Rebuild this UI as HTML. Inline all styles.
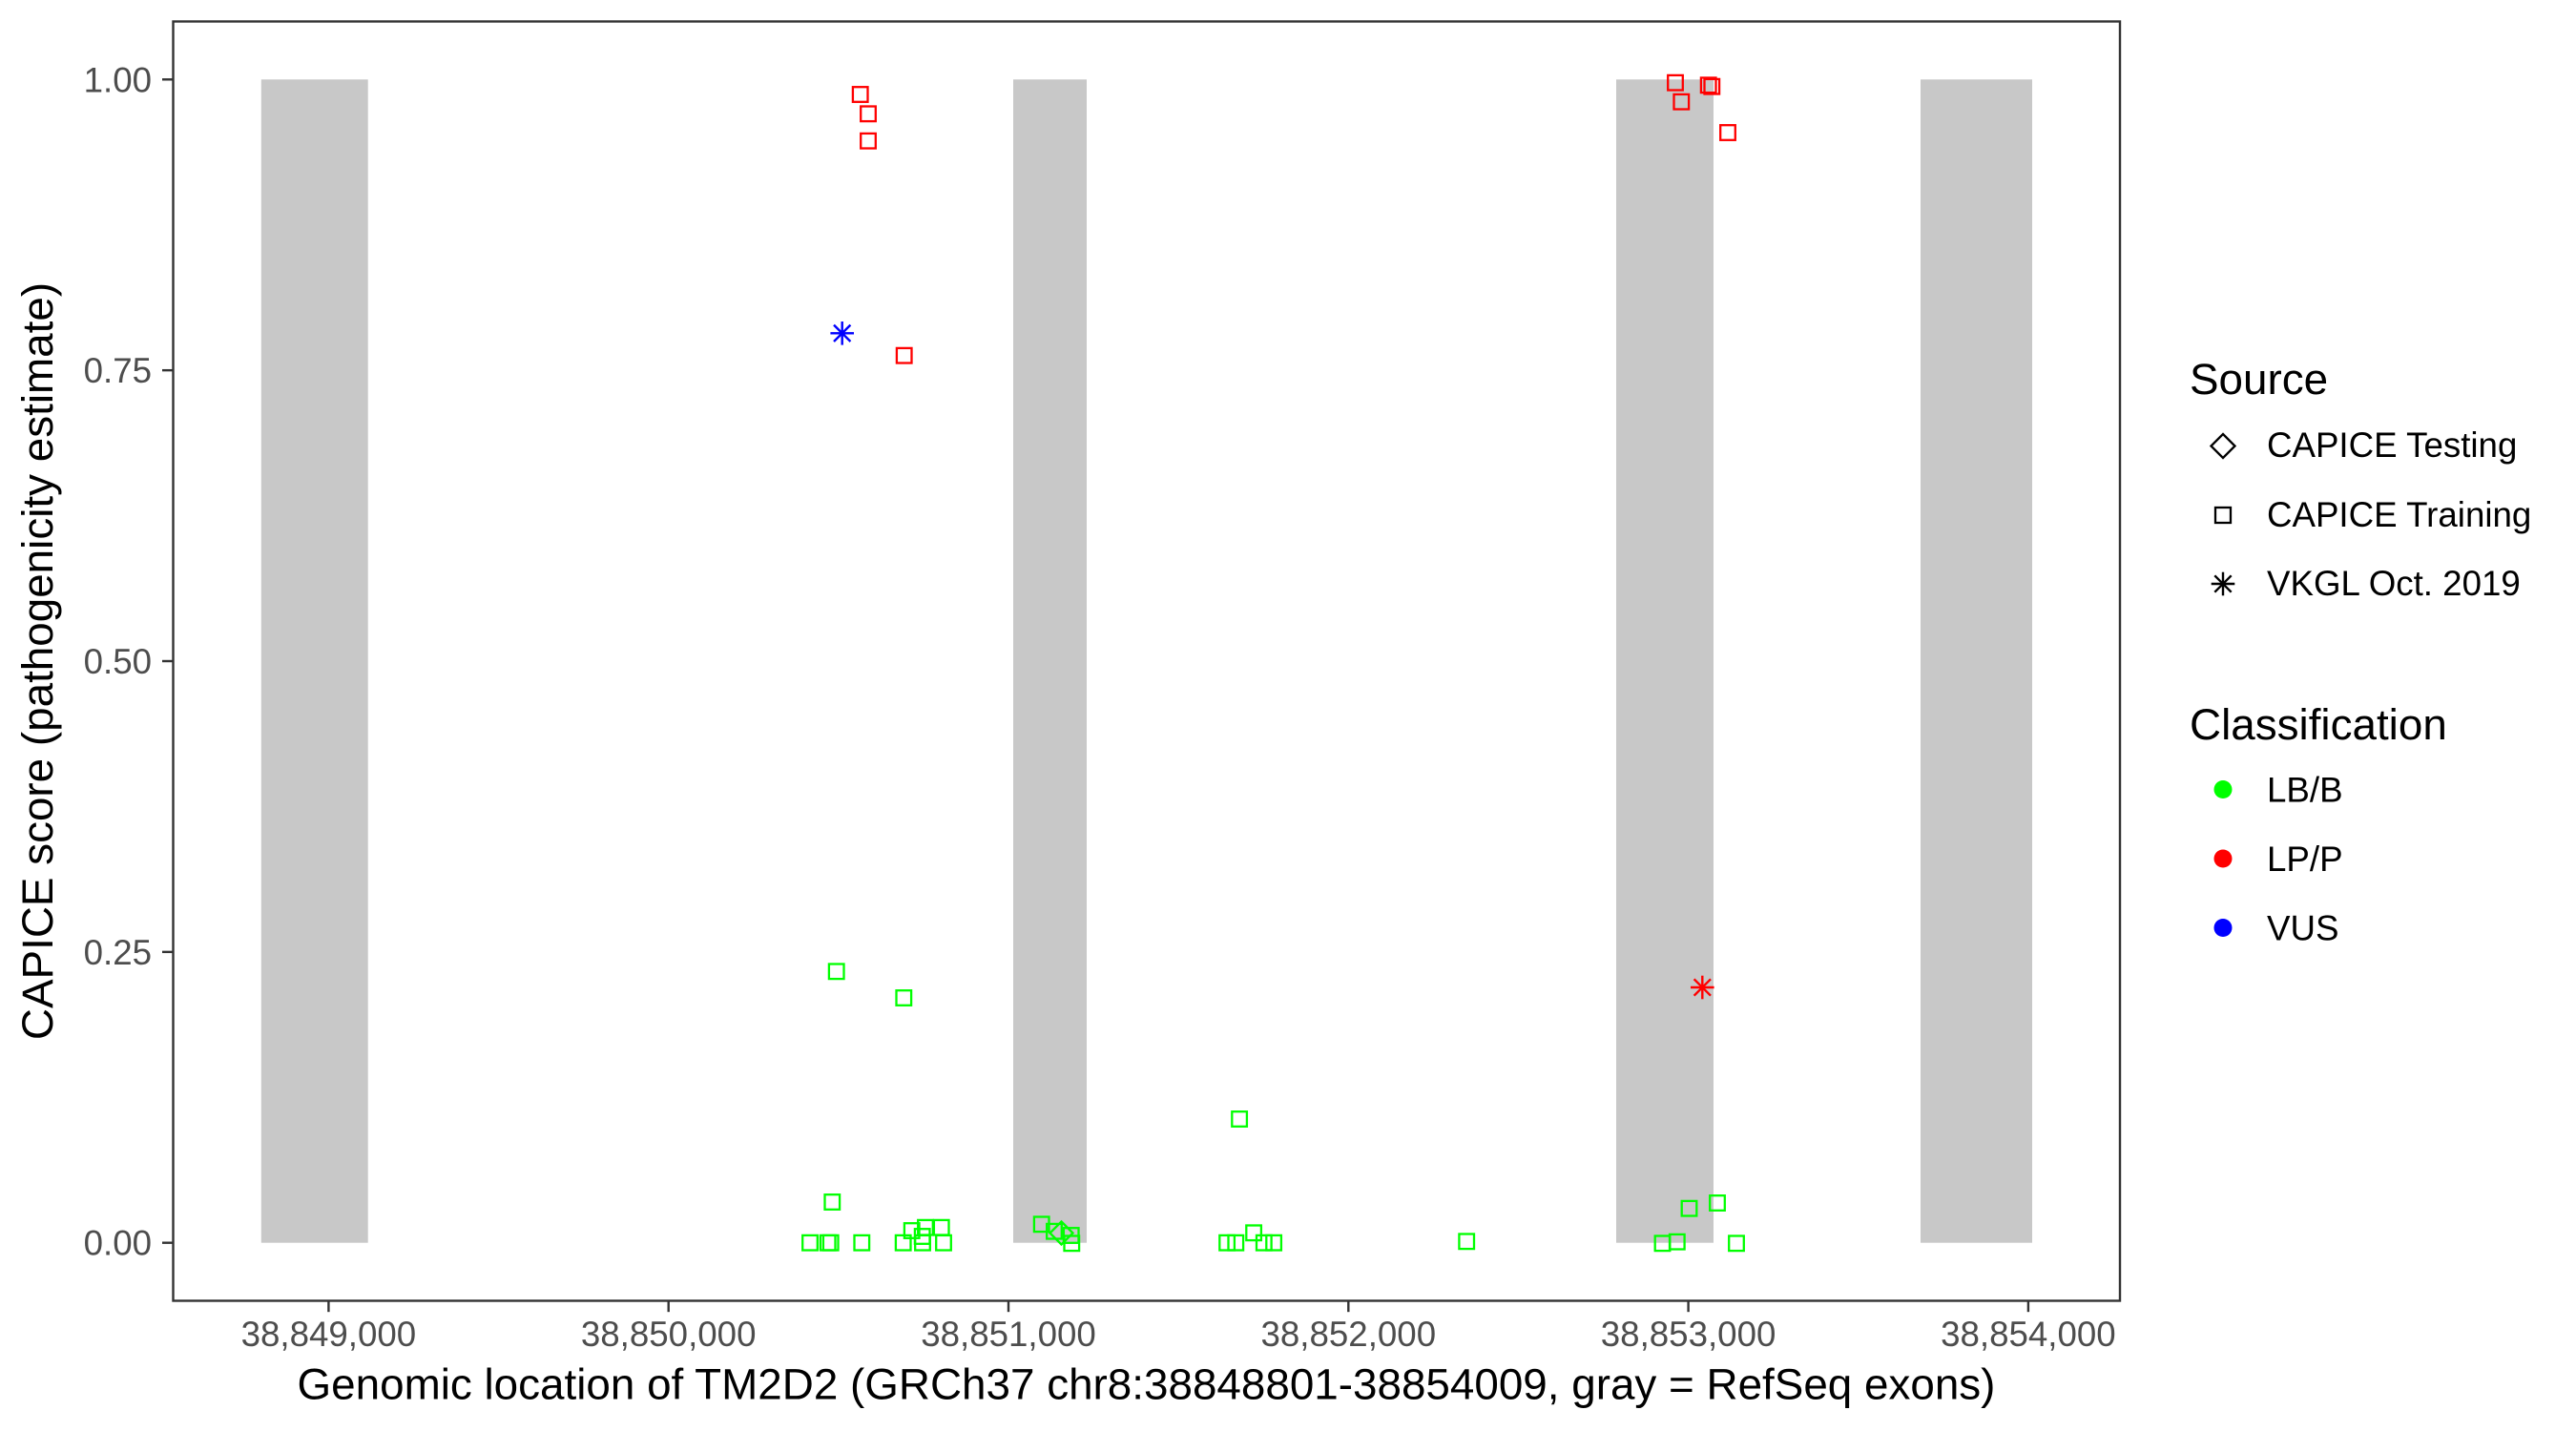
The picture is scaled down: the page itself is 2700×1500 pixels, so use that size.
<!DOCTYPE html>
<html>
<head>
<meta charset="utf-8">
<style>
  html, body { margin:0; padding:0; background:#fff; }
  svg { display:block; }
  text { font-family: "Liberation Sans", Arial, sans-serif; }
</style>
</head>
<body>
<svg width="2700" height="1500" viewBox="0 0 2700 1500" xmlns="http://www.w3.org/2000/svg">
  <rect x="0" y="0" width="2700" height="1500" fill="#ffffff"/>

  <!-- exon rectangles -->
  <g fill="#C8C8C8">
    <rect x="273.8" y="83.3" width="111.9" height="1219.4"/>
    <rect x="1062" y="83.3" width="77" height="1219.4"/>
    <rect x="1694" y="83.3" width="102" height="1219.4"/>
    <rect x="2013" y="83.3" width="117" height="1219.4"/>
  </g>

  <!-- green squares -->
  <g fill="none" stroke="#00FF00" stroke-width="2.3">
    <rect x="868.9" y="1010.5" width="15.6" height="15.6"/>
    <rect x="939.5" y="1038.2" width="15.6" height="15.6"/>
    <rect x="864.5" y="1252.2" width="15.6" height="15.6"/>
    <rect x="841.2" y="1294.9" width="15.6" height="15.6"/>
    <rect x="859.9" y="1294.9" width="15.6" height="15.6"/>
    <rect x="862.9" y="1294.9" width="15.6" height="15.6"/>
    <rect x="895.5" y="1294.9" width="15.6" height="15.6"/>
    <rect x="938.9" y="1294.9" width="15.6" height="15.6"/>
    <rect x="959.2" y="1294.9" width="15.6" height="15.6"/>
    <rect x="981.2" y="1294.9" width="15.6" height="15.6"/>
    <rect x="947.9" y="1282.2" width="15.6" height="15.6"/>
    <rect x="962.2" y="1278.9" width="15.6" height="15.6"/>
    <rect x="978.9" y="1278.9" width="15.6" height="15.6"/>
    <rect x="958.9" y="1288.2" width="15.6" height="15.6"/>
    <rect x="1083.9" y="1275.5" width="15.6" height="15.6"/>
    <rect x="1097.2" y="1282.9" width="15.6" height="15.6"/>
    <rect x="1114.9" y="1287.2" width="15.6" height="15.6"/>
    <rect x="1115.5" y="1295.5" width="15.6" height="15.6"/>
    <rect x="1291.3" y="1165.2" width="15.6" height="15.6"/>
    <rect x="1278.3" y="1294.9" width="15.6" height="15.6"/>
    <rect x="1287.5" y="1294.9" width="15.6" height="15.6"/>
    <rect x="1306.3" y="1284.5" width="15.6" height="15.6"/>
    <rect x="1317.0" y="1294.9" width="15.6" height="15.6"/>
    <rect x="1327.3" y="1294.9" width="15.6" height="15.6"/>
    <rect x="1529.4" y="1293.5" width="15.6" height="15.6"/>
    <rect x="1762.7" y="1258.9" width="15.6" height="15.6"/>
    <rect x="1792.2" y="1253.2" width="15.6" height="15.6"/>
    <rect x="1734.7" y="1295.5" width="15.6" height="15.6"/>
    <rect x="1750.0" y="1293.9" width="15.6" height="15.6"/>
    <rect x="1812.2" y="1295.5" width="15.6" height="15.6"/>
  </g>
  <!-- green diamond -->
  <polygon points="1112.5,1280.5 1124.5,1292.5 1112.5,1304.5 1100.5,1292.5" fill="none" stroke="#00FF00" stroke-width="2.3"/>

  <!-- red squares -->
  <g fill="none" stroke="#FF0000" stroke-width="2.3">
    <rect x="893.9" y="91.2" width="15.6" height="15.6"/>
    <rect x="902.2" y="111.5" width="15.6" height="15.6"/>
    <rect x="902.2" y="139.9" width="15.6" height="15.6"/>
    <rect x="939.9" y="364.9" width="15.6" height="15.6"/>
    <rect x="1748.2" y="78.9" width="15.6" height="15.6"/>
    <rect x="1754.5" y="98.9" width="15.6" height="15.6"/>
    <rect x="1782.9" y="81.5" width="15.6" height="15.6"/>
    <rect x="1786.5" y="82.9" width="15.6" height="15.6"/>
    <rect x="1803.2" y="131.2" width="15.6" height="15.6"/>
  </g>

  <!-- stars -->
  <g stroke="#0000FF" stroke-width="2.4" stroke-linecap="butt">
    <line x1="882.7" y1="337" x2="882.7" y2="361.6"/>
    <line x1="870.4" y1="349.3" x2="895" y2="349.3"/>
    <line x1="874" y1="340.6" x2="891.4" y2="358"/>
    <line x1="874" y1="358" x2="891.4" y2="340.6"/>
  </g>
  <g stroke="#FF0000" stroke-width="2.4" stroke-linecap="butt">
    <line x1="1784.3" y1="1022.7" x2="1784.3" y2="1047.3"/>
    <line x1="1772" y1="1035" x2="1796.6" y2="1035"/>
    <line x1="1775.6" y1="1026.3" x2="1793" y2="1043.7"/>
    <line x1="1775.6" y1="1043.7" x2="1793" y2="1026.3"/>
  </g>

  <!-- panel border -->
  <rect x="181.5" y="22.5" width="2040.5" height="1341" fill="none" stroke="#333333" stroke-width="2.4"/>

  <!-- y ticks -->
  <g stroke="#333333" stroke-width="2.4">
    <line x1="170" y1="1302.7" x2="181.5" y2="1302.7"/>
    <line x1="170" y1="997.85" x2="181.5" y2="997.85"/>
    <line x1="170" y1="693" x2="181.5" y2="693"/>
    <line x1="170" y1="388.15" x2="181.5" y2="388.15"/>
    <line x1="170" y1="83.3" x2="181.5" y2="83.3"/>
  </g>
  <g font-size="36.7" fill="#4D4D4D" text-anchor="end">
    <text x="159" y="1315.7">0.00</text>
    <text x="159" y="1010.85">0.25</text>
    <text x="159" y="706">0.50</text>
    <text x="159" y="401.15">0.75</text>
    <text x="159" y="96.3">1.00</text>
  </g>

  <!-- x ticks -->
  <g stroke="#333333" stroke-width="2.4">
    <line x1="344.4" y1="1363.7" x2="344.4" y2="1375.2"/>
    <line x1="700.7" y1="1363.7" x2="700.7" y2="1375.2"/>
    <line x1="1057" y1="1363.7" x2="1057" y2="1375.2"/>
    <line x1="1413.3" y1="1363.7" x2="1413.3" y2="1375.2"/>
    <line x1="1769.6" y1="1363.7" x2="1769.6" y2="1375.2"/>
    <line x1="2125.9" y1="1363.7" x2="2125.9" y2="1375.2"/>
  </g>
  <g font-size="36.7" fill="#4D4D4D" text-anchor="middle">
    <text x="344.4" y="1411">38,849,000</text>
    <text x="700.7" y="1411">38,850,000</text>
    <text x="1057" y="1411">38,851,000</text>
    <text x="1413.3" y="1411">38,852,000</text>
    <text x="1769.6" y="1411">38,853,000</text>
    <text x="2125.9" y="1411">38,854,000</text>
  </g>

  <!-- axis titles -->
  <text x="1201.5" y="1466.5" font-size="45.8" fill="#000" text-anchor="middle">Genomic location of TM2D2 (GRCh37 chr8:38848801-38854009, gray = RefSeq exons)</text>
  <text x="0" y="0" font-size="45.8" fill="#000" text-anchor="middle" transform="translate(55,693) rotate(-90)">CAPICE score (pathogenicity estimate)</text>

  <!-- legend: Source -->
  <text x="2295" y="413" font-size="45.8" fill="#000">Source</text>
  <polygon points="2330,455 2342.5,467.5 2330,480 2317.5,467.5" fill="none" stroke="#000" stroke-width="2.3"/>
  <rect x="2322" y="532" width="16" height="16" fill="none" stroke="#000" stroke-width="2.3"/>
  <g stroke="#000" stroke-width="2.4">
    <line x1="2330" y1="599.7" x2="2330" y2="624.3"/>
    <line x1="2317.7" y1="612" x2="2342.3" y2="612"/>
    <line x1="2321.3" y1="603.3" x2="2338.7" y2="620.7"/>
    <line x1="2321.3" y1="620.7" x2="2338.7" y2="603.3"/>
  </g>
  <g font-size="36.7" fill="#000">
    <text x="2376" y="479">CAPICE Testing</text>
    <text x="2376" y="552">CAPICE Training</text>
    <text x="2376" y="624">VKGL Oct. 2019</text>
  </g>

  <!-- legend: Classification -->
  <text x="2295" y="775" font-size="45.8" fill="#000">Classification</text>
  <circle cx="2330" cy="827.5" r="9.5" fill="#00FF00"/>
  <circle cx="2330" cy="900" r="9.5" fill="#FF0000"/>
  <circle cx="2330" cy="972.5" r="9.5" fill="#0000FF"/>
  <g font-size="36.7" fill="#000">
    <text x="2376" y="840.5">LB/B</text>
    <text x="2376" y="913">LP/P</text>
    <text x="2376" y="985.5">VUS</text>
  </g>
</svg>
</body>
</html>
